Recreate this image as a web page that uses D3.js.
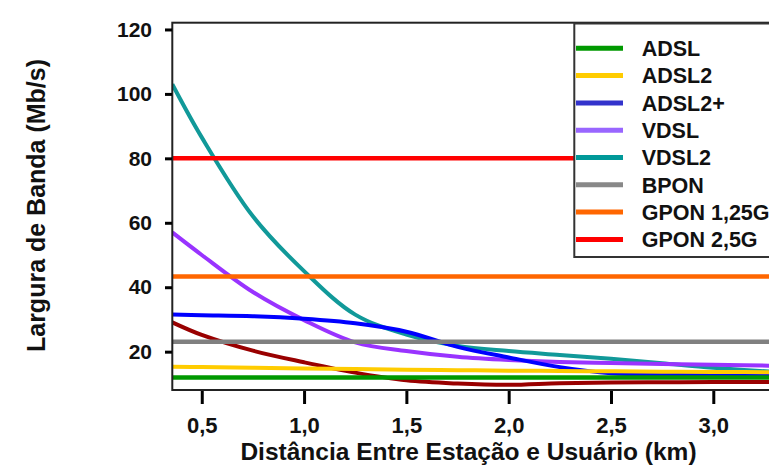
<!DOCTYPE html>
<html>
<head>
<meta charset="utf-8">
<script src="https://cdnjs.cloudflare.com/ajax/libs/d3/7.8.5/d3.min.js"></script>
<style>
  body { margin: 0; background: #fff; }
  text { font-family: "Liberation Sans", Arial, sans-serif; font-weight: bold; fill: #111; }
</style>
</head>
<body>
<svg id="container" width="769" height="466"></svg>
<script>
// distance samples (km) used by the curved series
const distances = [0.356, 0.5, 0.75, 1.0, 1.25, 1.5, 1.75, 2.0, 2.25, 2.5, 2.75, 3.0, 3.35];

const adsl2 = [15.3, 15.2, 15.0, 14.8, 14.6, 14.4, 14.25, 14.1, 14.0, 13.9, 13.8, 13.7, 13.6];
const adsl2plus = [31.5, 31.3, 31.0, 30.2, 28.8, 26.2, 21.5, 18.2, 15.2, 13.3, 12.9, 12.8, 12.7];
const vdsl = [57, 50, 38.5, 29.8, 22.9, 20.2, 18.4, 17.4, 16.8, 16.5, 16.2, 15.9, 15.6];
const vdsl2 = [103, 86.5, 62, 45, 31.5, 25.3, 21.8, 20.2, 19.0, 17.8, 16.4, 15.0, 13.5];
const unnamed = [29.1, 25.2, 20.3, 16.7, 13.5, 11.1, 10.1, 9.7, 10.2, 10.4, 10.5, 10.6, 10.6];

// constant-rate technologies (Mb/s)
const adsl = 12;
const bpon = 23.1;
const gpon125 = 43.3;
const gpon25 = 80;

const xTicks = [0.5, 1.0, 1.5, 2.0, 2.5, 3.0];
const yTicks = [20, 40, 60, 80, 100, 120];

const legendNames = ["ADSL", "ADSL2", "ADSL2+", "VDSL", "VDSL2", "BPON", "GPON 1,25G", "GPON 2,5G"];
const legendColors = ["#009900", "#ffcc00", "#3333cc", "#9966ff", "#009999", "#888888", "#ff6600", "#ff0000"];

const svg = d3.select("#container");

const x = d3.scaleLinear().domain([0.356, 3.5]).range([172.3, 815.6]);
const y = d3.scaleLinear().domain([8.1, 122.1]).range([390, 22.7]);

const comma = (d) => d.toFixed(1).replace(".", ",");

// curves
const curveSeries = [
  { values: unnamed, color: "#990000" },
  { values: vdsl2, color: "#119999" },
  { values: vdsl, color: "#9933ff" },
  { values: adsl2plus, color: "#0000ff" },
  { values: adsl2, color: "#ffcc00" }
];

const line = d3
  .line()
  .x((d, i) => x(distances[i]))
  .y((d) => y(d))
  .curve(d3.curveCatmullRom.alpha(0.5));

svg
  .append("clipPath")
  .attr("id", "plot-clip")
  .append("rect")
  .attr("x", x.range()[0])
  .attr("y", y.range()[1])
  .attr("width", x.range()[1] - x.range()[0])
  .attr("height", y.range()[0] - y.range()[1]);

const plot = svg.append("g").attr("clip-path", "url(#plot-clip)");

plot
  .selectAll("path.curve")
  .data(curveSeries)
  .enter()
  .append("path")
  .attr("class", "curve")
  .attr("fill", "none")
  .attr("stroke", (s) => s.color)
  .attr("stroke-width", 4)
  .attr("d", (s) => line(s.values));

// flat lines
const flatSeries = [
  { value: adsl, color: "#009900" },
  { value: bpon, color: "#808080" },
  { value: gpon125, color: "#ff6600" },
  { value: gpon25, color: "#ff0000" }
];

plot
  .selectAll("line.flat")
  .data(flatSeries)
  .enter()
  .append("line")
  .attr("class", "flat")
  .attr("x1", x(0.356))
  .attr("x2", x(3.5))
  .attr("y1", (s) => y(s.value))
  .attr("y2", (s) => y(s.value))
  .attr("stroke", (s) => s.color)
  .attr("stroke-width", 4.5);

// frame
svg
  .append("rect")
  .attr("x", x.range()[0])
  .attr("y", y.range()[1])
  .attr("width", x.range()[1] - x.range()[0])
  .attr("height", y.range()[0] - y.range()[1])
  .attr("fill", "none")
  .attr("stroke", "#222")
  .attr("stroke-width", 2);

// axes
const yAxis = svg
  .append("g")
  .attr("transform", "translate(172,0)")
  .call(d3.axisLeft(y).tickValues(yTicks).tickSize(7).tickPadding(13).tickFormat(d3.format("d")));

const xAxis = svg
  .append("g")
  .attr("transform", "translate(0,391)")
  .call(d3.axisBottom(x).tickValues(xTicks).tickSize(13).tickPadding(13).tickFormat(comma));

[yAxis, xAxis].forEach((g) => {
  g.select(".domain").remove();
  g.selectAll(".tick line").attr("stroke", "#000").attr("stroke-width", 3);
  g.selectAll(".tick text").attr("fill", "#111").style("font-family", "'Liberation Sans', Arial, sans-serif").style("font-weight", "bold");
});
yAxis.selectAll(".tick text").style("font-size", "21px");
xAxis.selectAll(".tick text").style("font-size", "22px");

// titles
svg
  .append("text")
  .attr("transform", "translate(45,205.5) rotate(-90)")
  .attr("text-anchor", "middle")
  .style("font-size", "25px")
  .text("Largura de Banda (Mb/s)");

svg
  .append("text")
  .attr("x", 468.5)
  .attr("y", 460)
  .attr("text-anchor", "middle")
  .style("font-size", "24.5px")
  .text("Distância Entre Estação e Usuário (km)");

// legend
const legend = svg.append("g");

legend
  .append("rect")
  .attr("x", 574.3)
  .attr("y", 23.5)
  .attr("width", 260)
  .attr("height", 233.5)
  .attr("fill", "#fff")
  .attr("stroke", "#333")
  .attr("stroke-width", 2);

const items = legend
  .selectAll("g.item")
  .data(legendNames)
  .enter()
  .append("g")
  .attr("class", "item")
  .attr("transform", (d, i) => `translate(0,${48.3 + i * 27.3})`);

items
  .append("line")
  .attr("x1", 576)
  .attr("x2", 623)
  .attr("stroke", (d, i) => legendColors[i])
  .attr("stroke-width", 5);

items
  .append("text")
  .attr("x", 641.7)
  .attr("dy", "0.36em")
  .style("font-size", "21.5px")
  .text((d) => d);
</script>
</body>
</html>
